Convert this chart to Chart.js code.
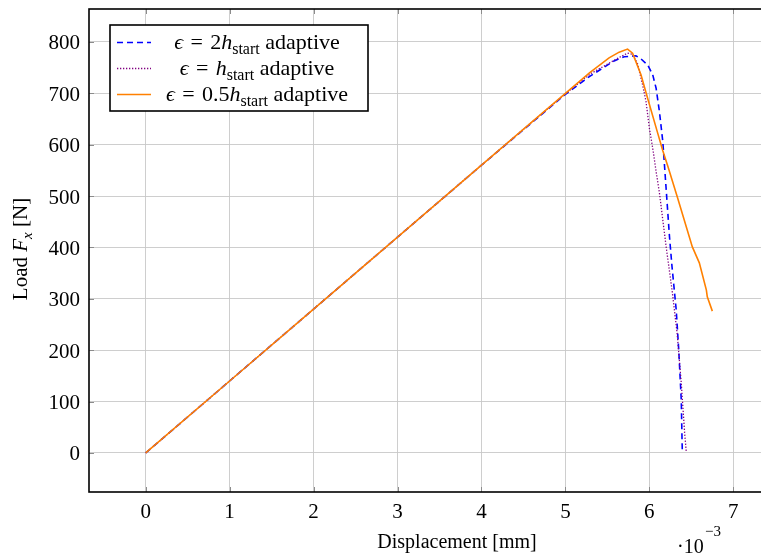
<!DOCTYPE html>
<html>
<head>
<meta charset="utf-8">
<script src="https://cdn.jsdelivr.net/npm/chart.js@4/dist/chart.umd.min.js"></script>
<style>
html,body{margin:0;padding:0;background:#fff;overflow:hidden;width:761px;height:556px;}
canvas{display:block;}
</style>
</head>
<body>
<canvas id="c" width="769" height="556"></canvas>
<script>
// ---- data (displacement in 1e-3 mm, load in N) ----
const xTickValues = [0, 1, 2, 3, 4, 5, 6, 7];
const yTickValues = [0, 100, 200, 300, 400, 500, 600, 700, 800];

const blueX = [0, 1, 2, 3, 4, 4.5, 5.0, 5.29, 5.58, 5.70, 5.84, 5.90, 5.98, 6.04, 6.08, 6.12, 6.16, 6.18, 6.21, 6.24, 6.27, 6.32, 6.35, 6.38, 6.39, 6.393];
const blueY = [0, 140, 280, 420, 560, 629, 698, 733, 763, 771, 773, 767, 755, 736, 710, 664, 606, 560, 490, 420, 362, 278, 200, 103, 19, 0];

const purpleX = [0, 1, 2, 3, 4, 4.5, 5.0, 5.3, 5.62, 5.74, 5.80, 5.86, 5.92, 5.96, 6.0, 6.04, 6.08, 6.12, 6.2, 6.27, 6.33, 6.38, 6.42, 6.44];
const purpleY = [0, 140, 280, 420, 560, 630, 699, 738, 768, 778, 776, 757, 716, 684, 632, 593, 548, 506, 401, 317, 234, 136, 39, 2];

const orangeX = [0, 1, 2, 3, 4, 4.7, 5.0, 5.29, 5.52, 5.64, 5.74, 5.80, 5.90, 5.98, 6.10, 6.16, 6.22, 6.333, 6.512, 6.595, 6.679, 6.69, 6.75];
const orangeY = [0, 140, 280, 420, 560, 658, 700, 740, 769, 780, 786, 778, 736, 690, 622, 588, 558, 498, 401, 370, 317, 304, 276];

const seriesNames = ['ε = 2h_start adaptive', 'ε = h_start adaptive', 'ε = 0.5h_start adaptive'];
// legend rich-text parts: [text, style] style: 'i' italic, 's' subscript, '' roman
const legendParts = [
  [['ϵ', 'i'], ['\u2004=\u20042', ''], ['h', 'i'], ['start', 's'], [' adaptive', '']],
  [['ϵ', 'i'], ['\u2004=\u2004', ''], ['h', 'i'], ['start', 's'], [' adaptive', '']],
  [['ϵ', 'i'], ['\u2004=\u20040.5', ''], ['h', 'i'], ['start', 's'], [' adaptive', '']]
];
const xTitle = 'Displacement [mm]';
const yTitleParts = [['Load ', ''], ['F', 'i'], ['x', 'si'], [' [N]', '']];

const FONT = '"Liberation Serif", "Times New Roman", serif';
const zip = (xs, ys) => xs.map((x, i) => ({x: x, y: ys[i]}));

function fontFor(style, size) {
  const italic = style.indexOf('i') >= 0 ? 'italic ' : '';
  const sz = style.indexOf('s') >= 0 ? Math.round(size * 0.72) : size;
  return italic + sz + 'px ' + FONT;
}
function drawRich(ctx, parts, x, y, size, align) {
  let total = 0;
  const widths = parts.map(p => { ctx.font = fontFor(p[1], size); const w = ctx.measureText(p[0]).width; total += w; return w; });
  let cx = align === 'center' ? x - total / 2 : x;
  ctx.textAlign = 'left';
  ctx.textBaseline = 'alphabetic';
  parts.forEach((p, i) => {
    ctx.font = fontFor(p[1], size);
    const dy = p[1].indexOf('s') >= 0 ? size * 0.22 : 0;
    ctx.fillText(p[0], cx, y + dy);
    cx += widths[i];
  });
  return total;
}

const styles = [
  {color: '#0000ff', dash: [6, 4], width: 1.6},
  {color: '#800080', dash: [1.3, 1.7], width: 1.3},
  {color: '#ff8000', dash: [], width: 1.6}
];

const overlay = {
  id: 'overlay',
  afterDraw(chart) {
    const ctx = chart.ctx;
    const a = chart.chartArea;
    const xs = chart.scales.x, ys = chart.scales.y;
    ctx.save();
    // inner tick marks
    ctx.strokeStyle = '#8c8c8c';
    ctx.lineWidth = 1;
    ctx.beginPath();
    xTickValues.forEach(v => {
      const px = Math.round(xs.getPixelForValue(v)) + 0.5;
      ctx.moveTo(px, a.bottom); ctx.lineTo(px, a.bottom - 5);
      ctx.moveTo(px, a.top); ctx.lineTo(px, a.top + 5);
    });
    yTickValues.forEach(v => {
      const py = Math.round(ys.getPixelForValue(v)) + 0.5;
      ctx.moveTo(a.left, py); ctx.lineTo(a.left + 5, py);
      ctx.moveTo(a.right, py); ctx.lineTo(a.right - 5, py);
    });
    ctx.stroke();
    // frame
    ctx.strokeStyle = '#000';
    ctx.lineWidth = 1.6;
    ctx.strokeRect(a.left, a.top, a.right - a.left, a.bottom - a.top);

    // legend
    const lx = 110, ly = 25, lw = 258, lh = 86;
    ctx.fillStyle = '#fff';
    ctx.fillRect(lx, ly, lw, lh);
    ctx.strokeStyle = '#000';
    ctx.lineWidth = 1.6;
    ctx.strokeRect(lx, ly, lw, lh);
    const rows = [42, 68, 94];
    rows.forEach((ry, i) => {
      const s = styles[i];
      ctx.strokeStyle = s.color;
      ctx.lineWidth = s.width;
      ctx.setLineDash(s.dash);
      ctx.beginPath();
      ctx.moveTo(117, ry + 0.5);
      ctx.lineTo(151, ry + 0.5);
      ctx.stroke();
      ctx.setLineDash([]);
      ctx.fillStyle = '#000';
      drawRich(ctx, legendParts[i], 257, ry + 7, 22, 'center');
    });

    // axis titles
    ctx.fillStyle = '#000';
    ctx.font = '20px ' + FONT;
    ctx.textAlign = 'center';
    ctx.textBaseline = 'alphabetic';
    ctx.fillText(xTitle, 457, 548);
    // multiplier
    ctx.textAlign = 'left';
    ctx.fillText('·10', 677, 553);
    ctx.font = '15px ' + FONT;
    ctx.fillText('−3', 705, 536);
    // y title rotated
    ctx.save();
    ctx.translate(27, 249);
    ctx.rotate(-Math.PI / 2);
    let total = 0;
    yTitleParts.forEach(p => { ctx.font = fontFor(p[1], 21); total += ctx.measureText(p[0]).width; });
    drawRich(ctx, yTitleParts, -total / 2, 0, 21, 'left');
    ctx.restore();
    ctx.restore();
  }
};

new Chart(document.getElementById('c'), {
  type: 'scatter',
  data: {
    datasets: [
      {label: seriesNames[0], data: zip(blueX, blueY), showLine: true, borderColor: styles[0].color, borderWidth: styles[0].width, borderDash: styles[0].dash, pointRadius: 0, fill: false, tension: 0, order: 3},
      {label: seriesNames[1], data: zip(purpleX, purpleY), showLine: true, borderColor: styles[1].color, borderWidth: styles[1].width, borderDash: styles[1].dash, pointRadius: 0, fill: false, tension: 0, order: 2},
      {label: seriesNames[2], data: zip(orangeX, orangeY), showLine: true, borderColor: styles[2].color, borderWidth: styles[2].width, borderDash: styles[2].dash, pointRadius: 0, fill: false, tension: 0, order: 1}
    ]
  },
  options: {
    responsive: false,
    animation: false,
    devicePixelRatio: 1,
    layout: {padding: {top: 9, right: 0, left: 0, bottom: 0}},
    plugins: {legend: {display: false}, tooltip: {enabled: false}, title: {display: false}},
    scales: {
      x: {
        type: 'linear', min: -0.675, max: 7.425,
        afterBuildTicks: s => { s.ticks = xTickValues.map(v => ({value: v})); },
        afterFit: s => { s.height = 64; s.paddingLeft = 0; s.paddingRight = 0; },
        grid: {color: '#c8c8c8', lineWidth: 0.9, drawTicks: false},
        border: {display: false},
        ticks: {color: '#000', font: {family: FONT, size: 21}, padding: 8, maxRotation: 0, callback: v => String(v)}
      },
      y: {
        type: 'linear', min: -76, max: 864,
        afterBuildTicks: s => { s.ticks = yTickValues.map(v => ({value: v})); },
        afterFit: s => { s.width = 89; s.paddingTop = 0; s.paddingBottom = 0; },
        grid: {color: '#c8c8c8', lineWidth: 0.9, drawTicks: false},
        border: {display: false},
        ticks: {color: '#000', font: {family: FONT, size: 21}, padding: 9, labelOffset: 2, callback: v => String(v)}
      }
    }
  },
  plugins: [overlay]
});
</script>
</body>
</html>
